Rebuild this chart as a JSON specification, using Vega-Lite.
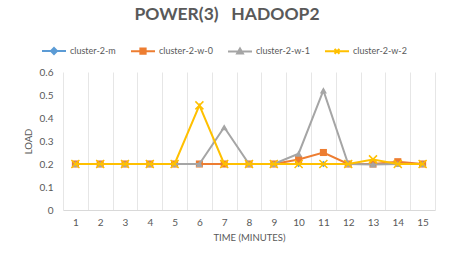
{
  "$schema": "https://vega.github.io/schema/vega-lite/v6.json",
  "width": 372,
  "height": 138,
  "autosize": {"type": "none"},
  "padding": {"left": 63, "top": 72, "right": 26, "bottom": 50},
  "background": "white",
  "config": {
    "view": {"stroke": null},
    "font": "Lato"
  },
  "title": {
    "text": "POWER(3)\u00a0\u00a0 HADOOP2",
    "fontSize": 17.5,
    "fontWeight": "bold",
    "color": "#595959",
    "font": "Lato",
    "anchor": "middle",
    "frame": "group",
    "dx": -22,
    "offset": 15
  },
  "data": {
    "values": [
      {"t": 1, "s": "cluster-2-m", "v": 0.2},
      {"t": 2, "s": "cluster-2-m", "v": 0.2},
      {"t": 3, "s": "cluster-2-m", "v": 0.2},
      {"t": 4, "s": "cluster-2-m", "v": 0.2},
      {"t": 5, "s": "cluster-2-m", "v": 0.2},
      {"t": 6, "s": "cluster-2-m", "v": 0.2},
      {"t": 7, "s": "cluster-2-m", "v": 0.2},
      {"t": 8, "s": "cluster-2-m", "v": 0.2},
      {"t": 9, "s": "cluster-2-m", "v": 0.2},
      {"t": 10, "s": "cluster-2-m", "v": 0.2},
      {"t": 11, "s": "cluster-2-m", "v": 0.2},
      {"t": 12, "s": "cluster-2-m", "v": 0.2},
      {"t": 13, "s": "cluster-2-m", "v": 0.2},
      {"t": 14, "s": "cluster-2-m", "v": 0.2},
      {"t": 15, "s": "cluster-2-m", "v": 0.2},
      {"t": 1, "s": "cluster-2-w-0", "v": 0.2},
      {"t": 2, "s": "cluster-2-w-0", "v": 0.2},
      {"t": 3, "s": "cluster-2-w-0", "v": 0.2},
      {"t": 4, "s": "cluster-2-w-0", "v": 0.2},
      {"t": 5, "s": "cluster-2-w-0", "v": 0.2},
      {"t": 6, "s": "cluster-2-w-0", "v": 0.2},
      {"t": 7, "s": "cluster-2-w-0", "v": 0.2},
      {"t": 8, "s": "cluster-2-w-0", "v": 0.2},
      {"t": 9, "s": "cluster-2-w-0", "v": 0.2},
      {"t": 10, "s": "cluster-2-w-0", "v": 0.22},
      {"t": 11, "s": "cluster-2-w-0", "v": 0.25},
      {"t": 12, "s": "cluster-2-w-0", "v": 0.2},
      {"t": 13, "s": "cluster-2-w-0", "v": 0.2},
      {"t": 14, "s": "cluster-2-w-0", "v": 0.21},
      {"t": 15, "s": "cluster-2-w-0", "v": 0.2},
      {"t": 1, "s": "cluster-2-w-1", "v": 0.2},
      {"t": 2, "s": "cluster-2-w-1", "v": 0.2},
      {"t": 3, "s": "cluster-2-w-1", "v": 0.2},
      {"t": 4, "s": "cluster-2-w-1", "v": 0.2},
      {"t": 5, "s": "cluster-2-w-1", "v": 0.2},
      {"t": 6, "s": "cluster-2-w-1", "v": 0.2},
      {"t": 7, "s": "cluster-2-w-1", "v": 0.36},
      {"t": 8, "s": "cluster-2-w-1", "v": 0.2},
      {"t": 9, "s": "cluster-2-w-1", "v": 0.2},
      {"t": 10, "s": "cluster-2-w-1", "v": 0.245},
      {"t": 11, "s": "cluster-2-w-1", "v": 0.52},
      {"t": 12, "s": "cluster-2-w-1", "v": 0.2},
      {"t": 13, "s": "cluster-2-w-1", "v": 0.198},
      {"t": 14, "s": "cluster-2-w-1", "v": 0.2},
      {"t": 15, "s": "cluster-2-w-1", "v": 0.2},
      {"t": 1, "s": "cluster-2-w-2", "v": 0.2},
      {"t": 2, "s": "cluster-2-w-2", "v": 0.2},
      {"t": 3, "s": "cluster-2-w-2", "v": 0.2},
      {"t": 4, "s": "cluster-2-w-2", "v": 0.2},
      {"t": 5, "s": "cluster-2-w-2", "v": 0.2},
      {"t": 6, "s": "cluster-2-w-2", "v": 0.455},
      {"t": 7, "s": "cluster-2-w-2", "v": 0.2},
      {"t": 8, "s": "cluster-2-w-2", "v": 0.2},
      {"t": 9, "s": "cluster-2-w-2", "v": 0.2},
      {"t": 10, "s": "cluster-2-w-2", "v": 0.2},
      {"t": 11, "s": "cluster-2-w-2", "v": 0.2},
      {"t": 12, "s": "cluster-2-w-2", "v": 0.2},
      {"t": 13, "s": "cluster-2-w-2", "v": 0.22},
      {"t": 14, "s": "cluster-2-w-2", "v": 0.2},
      {"t": 15, "s": "cluster-2-w-2", "v": 0.2}
    ]
  },
  "encoding": {
    "x": {
      "field": "t",
      "type": "ordinal",
      "scale": {"type": "band", "paddingInner": 0, "paddingOuter": 0},
      "bandPosition": 0.5,
      "axis": {
        "title": "TIME (MINUTES)",
        "titleFontSize": 9.5,
        "titleFontWeight": "normal",
        "titleColor": "#595959",
        "titleFont": "Lato",
        "titlePadding": 5,
        "labelAngle": 0,
        "labelFontSize": 10,
        "labelColor": "#595959",
        "labelPadding": 7,
        "labelFont": "Lato",
        "tickBand": "extent",
        "ticks": false,
        "grid": true,
        "gridColor": "#e6e6e6",
        "gridWidth": 1,
        "domainColor": "#d9d9d9"
      }
    },
    "y": {
      "field": "v",
      "type": "quantitative",
      "scale": {"domain": [0, 0.6], "nice": false, "zero": true},
      "axis": {
        "title": "LOAD",
        "titleFontSize": 9.5,
        "titleFontWeight": "normal",
        "titleColor": "#595959",
        "titleFont": "Lato",
        "titlePadding": 6,
        "values": [0, 0.1, 0.2, 0.3, 0.4, 0.5, 0.6],
        "format": "~g",
        "labelFontSize": 10,
        "labelColor": "#595959",
        "labelFont": "Lato",
        "labelPadding": 10,
        "ticks": false,
        "domain": false,
        "grid": false
      }
    },
    "color": {
      "field": "s",
      "type": "nominal",
      "scale": {
        "domain": ["cluster-2-m", "cluster-2-w-0", "cluster-2-w-1", "cluster-2-w-2"],
        "range": ["#5B9BD5", "#ED7D31", "#A5A5A5", "#FFC000"]
      },
      "legend": {
        "orient": "none",
        "legendX": -22,
        "legendY": -34,
        "direction": "horizontal",
        "title": null,
        "symbolSize": 576,
        "labelOffset": 3,
        "columnPadding": 11,
        "labelFontSize": 9,
        "labelColor": "#595959",
        "labelFont": "Lato",
        "encode": {
          "symbols": {
            "update": {
              "shape": {"signal": "datum.value==='cluster-2-m' ? 'M-1,0L1,0M0,-0.25L0.25,0L0,0.25L-0.25,0Z' : datum.value==='cluster-2-w-0' ? 'M-1,0L1,0M-0.22,-0.22L0.22,-0.22L0.22,0.22L-0.22,0.22Z' : datum.value==='cluster-2-w-1' ? 'M-1,0L1,0M0,-0.24L0.24,0.18L-0.24,0.18Z' : 'M-1,0L1,0M-0.2,-0.2L0.2,0.2M-0.2,0.2L0.2,-0.2'"},
              "strokeWidth": {"value": 2},
              "fill": {"scale": "color", "field": "value"},
              "stroke": {"scale": "color", "field": "value"},
              "opacity": {"value": 1}
            }
          }
        }
      }
    }
  },
  "layer": [
    {
      "transform": [{"filter": "datum.s === 'cluster-2-m'"}],
      "layer": [
        {"mark": {"type": "line", "strokeWidth": 2}},
        {"mark": {"type": "point", "shape": "diamond", "filled": true, "size": 45, "opacity": 1}}
      ]
    },
    {
      "transform": [{"filter": "datum.s === 'cluster-2-w-0'"}],
      "layer": [
        {"mark": {"type": "line", "strokeWidth": 2}},
        {"mark": {"type": "point", "shape": "square", "filled": true, "size": 50, "opacity": 1}}
      ]
    },
    {
      "transform": [{"filter": "datum.s === 'cluster-2-w-1'"}],
      "layer": [
        {"mark": {"type": "line", "strokeWidth": 2}},
        {"mark": {"type": "point", "shape": "triangle-up", "filled": true, "size": 50, "opacity": 1}}
      ]
    },
    {
      "transform": [{"filter": "datum.s === 'cluster-2-w-2'"}],
      "layer": [
        {"mark": {"type": "line", "strokeWidth": 2}},
        {"mark": {"type": "point", "shape": "M-1,-1L1,1M-1,1L1,-1", "filled": false, "size": 64, "strokeWidth": 1.5, "opacity": 1}}
      ]
    }
  ]
}
